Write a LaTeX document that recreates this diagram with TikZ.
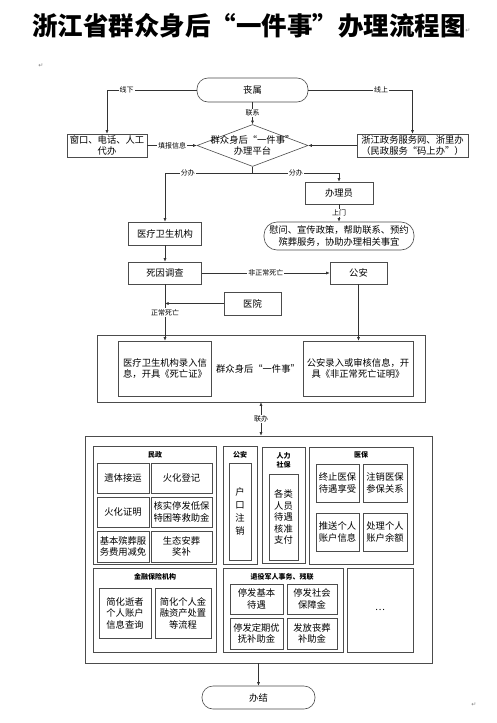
\documentclass[tikz,border=0pt]{standalone}
\usepackage{fontspec}
\setmainfont{Noto Sans CJK SC}
\newfontfamily\dvs{DejaVu Sans}
\usetikzlibrary{arrows.meta,shapes.geometric}
\tikzset{
  box/.style={draw=black!70, line width=0.6pt, inner sep=0pt, align=center, font=\fontsize{9.3}{11.5}\selectfont},
  stad/.style={box, rounded corners=11pt},
  lbl/.style={fill=white, inner sep=1pt, font=\fontsize{7}{8}\selectfont},
  ttl/.style={inner sep=0pt, align=center, font=\fontsize{7}{9}\selectfont\bfseries},
  plain/.style={inner sep=0pt, align=center, font=\fontsize{9.3}{11.5}\selectfont},
  conn/.style={draw=black!80, line width=0.6pt},
  tip/.tip={Latex[length=3.5pt,width=3pt]},
  arr/.style={conn, -tip},
  pmark/.style={inner sep=0pt, text=black!50, font=\dvs\fontsize{6}{6}\selectfont}
}
\newcommand\bx[7][]{\node[box,#1,minimum width={(#5-#3)*1pt},minimum height={(#6-#4)*1pt}] (#2) at ({(#3+#5)/2},{(#4+#6)/2}) {#7};}
\begin{document}
\begin{tikzpicture}[x=1pt,y=-1pt]
\useasboundingbox (0,0) rectangle (497,723);
\fill[white] (0,0) rectangle (497,723);
% title
\node[inner sep=0pt, font=\fontsize{25.5}{28}\selectfont\bfseries] (title) at (249,26) {浙江省群众身后“一件事”办理流程图};
\node[pmark] (m1) at (468,31) {↵};
\node[pmark] (m2) at (41,66) {↵};
\node[pmark] (m3) at (474,705) {↵};
% top part
\bx[stad]{sang}{197}{78}{308}{102}{丧属}
\bx{win}{67}{134}{147}{157}{窗口、电话、人工\\代办}
\node[diamond, draw=black!70, line width=0.6pt, inner sep=0pt, minimum width=111pt, minimum height=42pt] (plat) at (252.5,145.5) {};
\node[plain] (platt) at (plat.center) {群众身后“一件事”\\办理平台};
\bx{zj}{357}{134}{468}{157}{浙江政务服务网、浙里办\\（民政服务“码上办”）}
\bx{banli}{305}{182}{373}{204}{办理员}
\bx[rounded corners=13pt]{ww}{264}{222}{414}{250}{慰问、宣传政策，帮助联系、预约\\殡葬服务，协助办理相关事宜}
\bx{yl}{128.5}{222}{201.5}{245}{医疗卫生机构}
\bx{sy}{128.5}{262}{201.5}{284}{死因调查}
\bx{ga}{330}{262}{387}{284}{公安}
\bx{hosp}{224}{292}{281}{315}{医院}
% middle block
\bx{outer}{97}{335}{425}{402}{}
\bx{lin}{118.5}{341}{211.5}{396}{医疗卫生机构录入信\\息，开具《死亡证》}
\bx{rin}{303}{341}{413}{396}{公安录入或审核信息，开\\具《非正常死亡证明》}
\node[plain] (mid) at (258,369) {群众身后“一件事”};
% big block
\bx{big}{85}{436}{432}{663}{}
\bx{mz}{93}{446}{216}{564}{}
\node[ttl] (mzt) at (155,455) {民政};
\bx{a1}{97}{463}{149}{493}{遗体接运}
\bx{a2}{151}{463}{212}{493}{火化登记}
\bx{a3}{97}{497}{149}{527}{火化证明}
\bx{a4}{151}{497}{212}{527}{核实停发低保\\特困等救助金}
\bx{a5}{97}{531}{149}{562}{基本殡葬服\\务费用减免}
\bx{a6}{151}{531}{212}{562}{生态安葬\\奖补}
\bx{gab}{223}{446}{257}{564}{}
\node[ttl] (gabt) at (240,455) {公安};
\bx[font=\fontsize{9.3}{13}\selectfont]{gabi}{229}{463}{251}{560}{户\\口\\注\\销}
\bx{rs}{262}{447}{305}{563}{}
\node[ttl] (rst) at (283.5,460) {人力\\社保};
\bx{rsi}{269}{474}{298}{560}{各类\\人员\\待遇\\核准\\支付}
\bx{yb}{309}{447}{413}{564}{}
\node[ttl] (ybt) at (361,455) {医保};
\bx{b1}{316}{464}{359}{502}{终止医保\\待遇享受}
\bx{b2}{363}{464}{407}{502}{注销医保\\参保关系}
\bx{b3}{316}{513}{359}{551}{推送个人\\账户信息}
\bx{b4}{363}{513}{407}{551}{处理个人\\账户余额}
\bx{jr}{93}{568}{216}{652}{}
\node[ttl] (jrt) at (155,577) {金融保险机构};
\bx{c1}{99}{588}{151}{638}{简化逝者\\个人账户\\信息查询}
\bx{c2}{155}{588}{211}{638}{简化个人金\\融资产处置\\等流程}
\bx{ty}{223}{568}{343}{652}{}
\node[ttl] (tyt) at (282,577) {退役军人事务、残联};
\bx{d1}{230}{584}{283}{614}{停发基本\\待遇}
\bx{d2}{287}{584}{337}{614}{停发社会\\保障金}
\bx{d3}{230}{618}{283}{649}{停发定期优\\抚补助金}
\bx{d4}{287}{618}{337}{649}{发放丧葬\\补助金}
\bx{dots}{347}{568}{413}{652}{…}
\bx[stad]{bj}{202}{686}{315}{709}{办结}
% connectors
\draw[arr] (sang.west) -| node[lbl,pos=0.39]{线下} (win.north);
\draw[arr] (sang.east) -| node[lbl,pos=0.35]{线上} (zj.north);
\draw[arr] (sang.south) -- node[lbl]{联系} (plat.north);
\draw[arr] (win.east) -- node[lbl]{填报信息} (plat.west);
\draw[arr] (zj.west) -- (plat.east);
\coordinate (fork) at (252.5,173);
\draw[conn] (plat.south) -- (fork);
\draw[arr] (fork) -| node[lbl,pos=0.37]{分办} (yl.north);
\draw[arr] (fork) -| node[lbl,pos=0.25]{分办} (banli.north);
\draw[arr] (banli.south) -- node[lbl]{上门} (ww.north);
\draw[arr] (yl.south) -- (sy.north);
\draw[arr] (sy.east) -- node[lbl]{非正常死亡} (ga.west);
\draw[arr] (sy.south) -- node[lbl]{正常死亡} (lin.north);
\draw[arr] (hosp.west) -- (sy.south |- hosp.west);
\draw[arr] (ga.south) -- (ga.south |- rin.north);
\draw[conn, tip-tip] (outer.south) -- node[lbl]{联办} (outer.south |- big.north);
\draw[arr] (big.south) -- (big.south |- bj.north);
\end{tikzpicture}
\end{document}
